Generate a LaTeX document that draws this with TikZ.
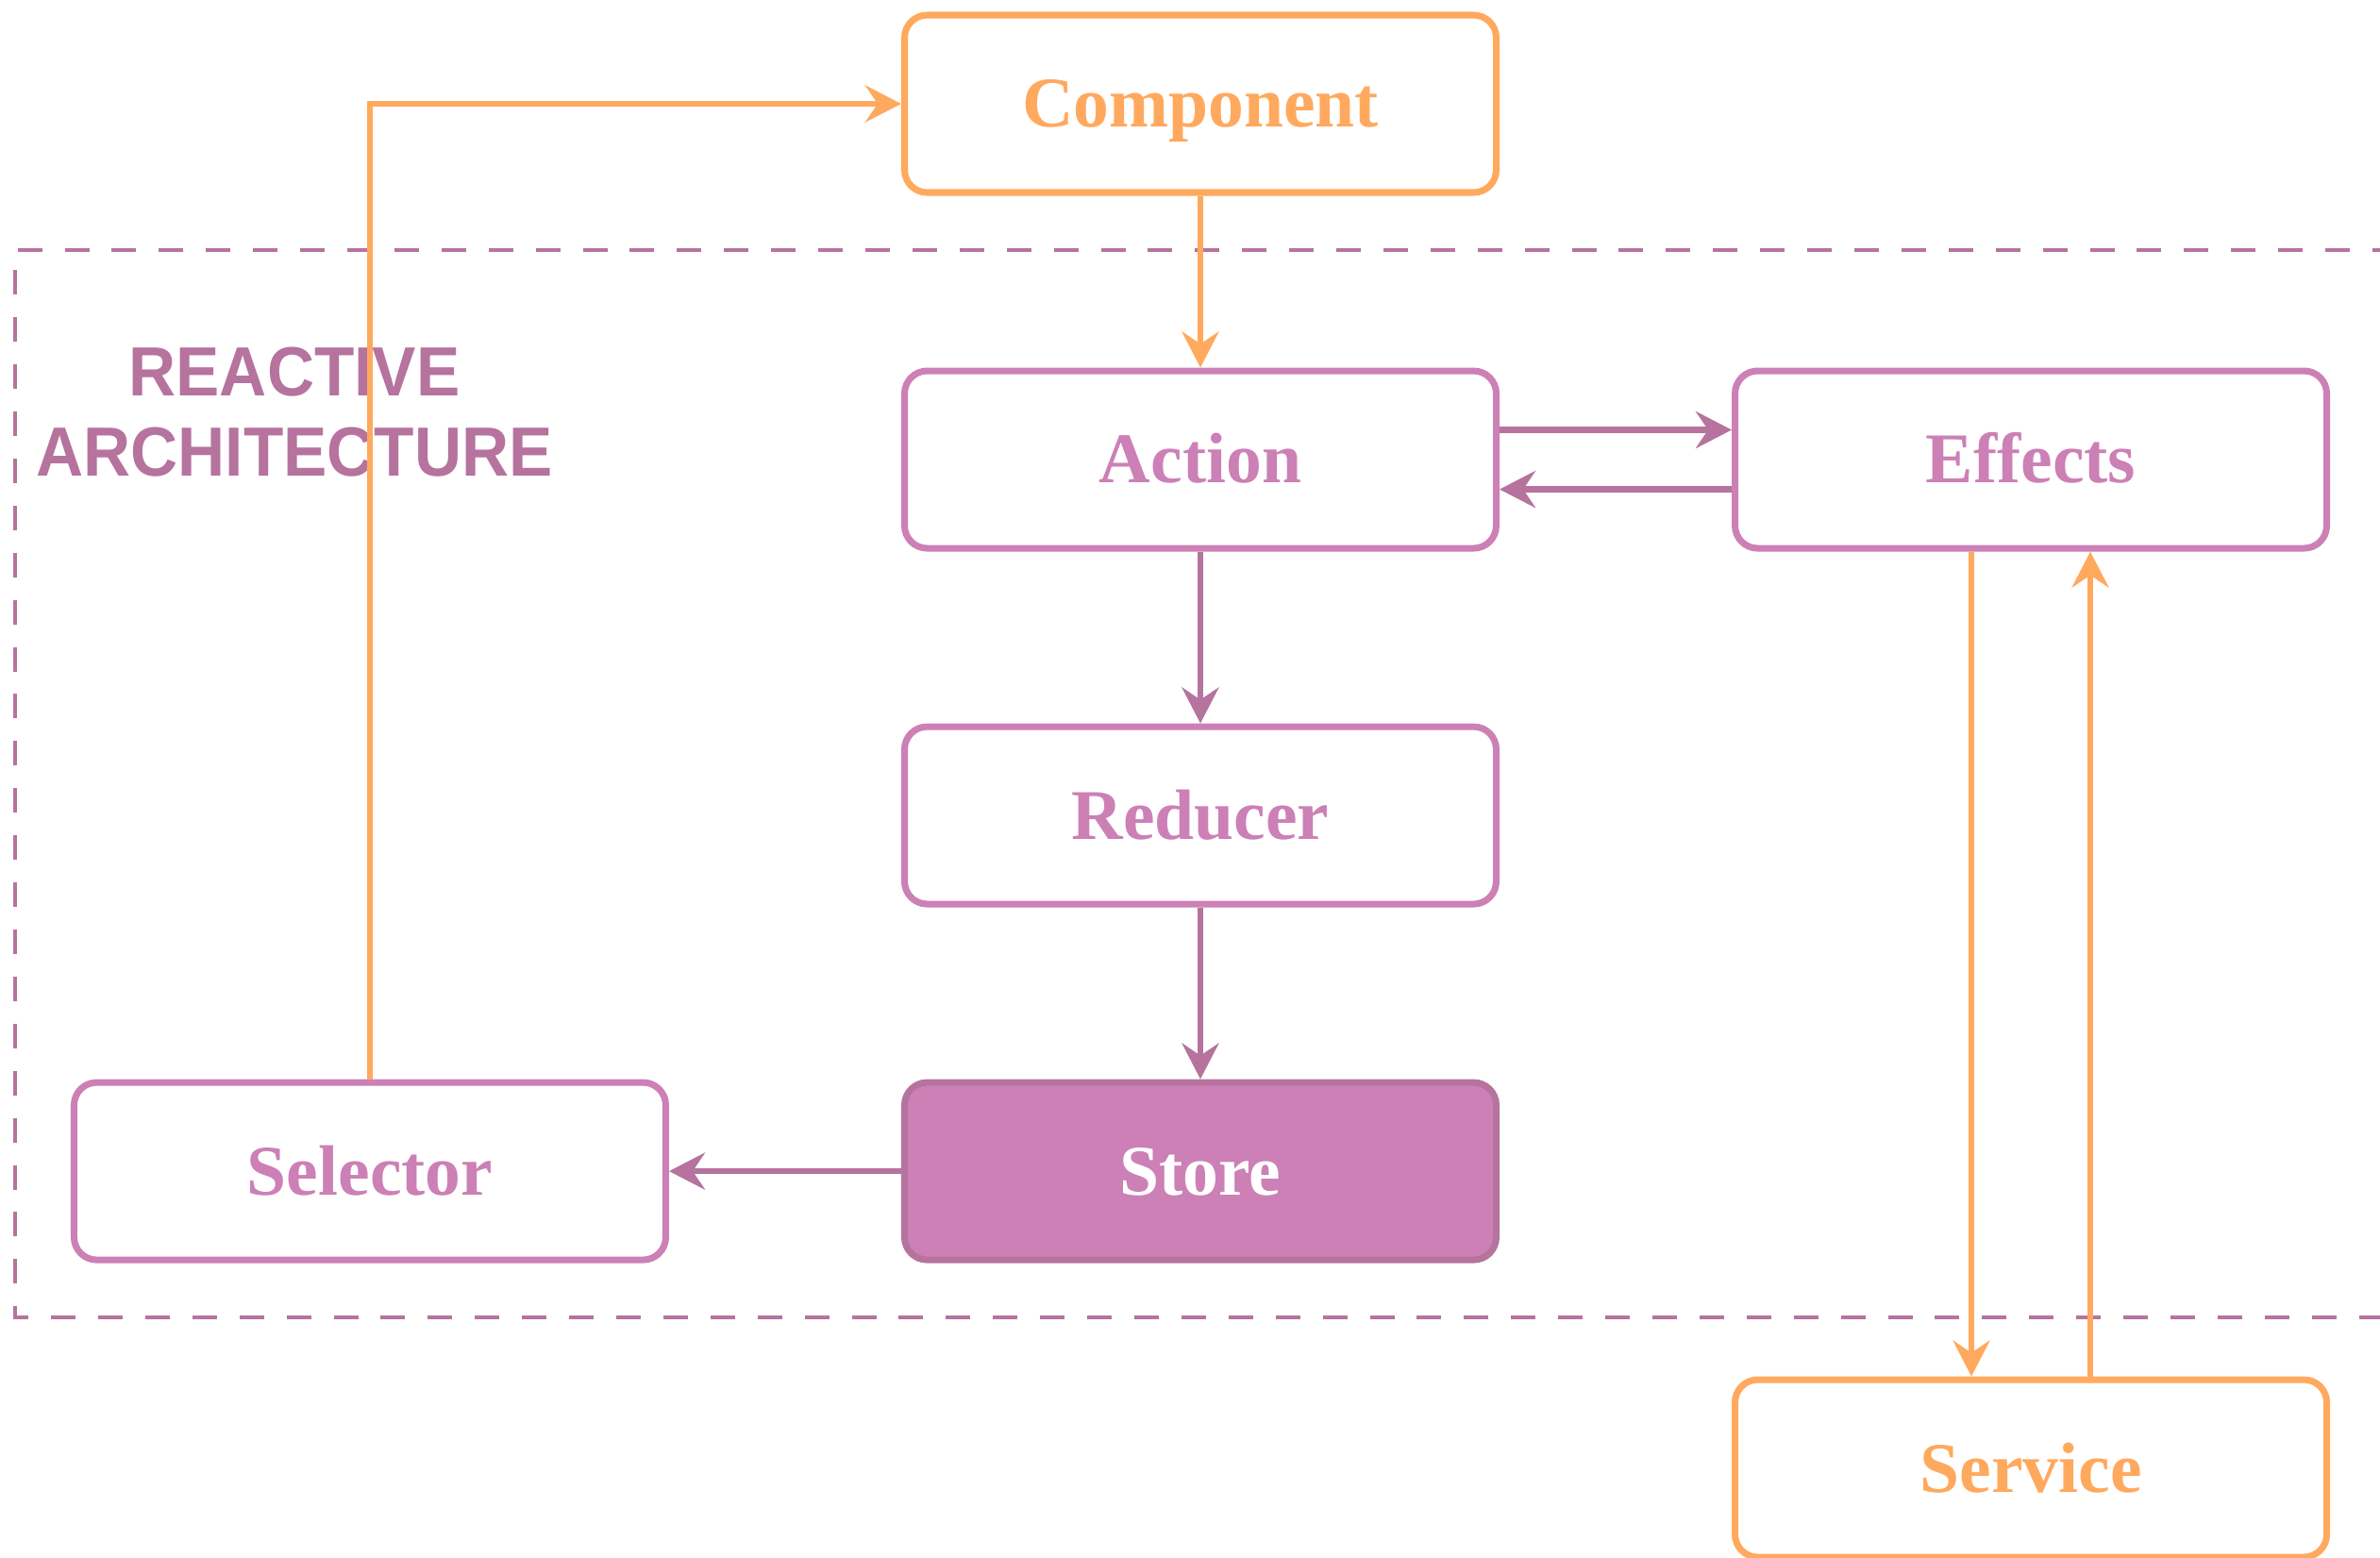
\documentclass[tikz,border=0pt]{standalone}
\usepackage{fontspec}
\setmainfont{Liberation Serif}
\newfontfamily\archfont[FakeStretch=0.94]{Liberation Sans}
\usetikzlibrary{arrows.meta,positioning}
\definecolor{peach}{RGB}{255,169,94}
\definecolor{orchid}{RGB}{204,128,182}
\definecolor{plum}{RGB}{181,115,158}
\tikzset{
  >={Stealth[length=3.8mm,width=3.9mm,inset=1.3mm]},
  block/.style={draw=#1,fill=white,line width=2pt,rounded corners=2.4mm,
    minimum width=62.7mm,minimum height=18.8mm,text=#1,
    text height=14.2pt,text depth=0pt,
    font=\fontsize{21.5}{25}\selectfont\bfseries},
  block/.default=orchid,
  filled block/.style={block=plum,fill=orchid,text=white},
  link/.style={->,line width=1.8pt,draw=#1},
  link/.default=plum,
  zone/.style={draw=plum,line width=1pt,dash pattern=on 7.4pt off 6.8pt},
}
\begin{document}
\begin{tikzpicture}[node distance=18.2mm and 24.6mm]
  \useasboundingbox (0,0) rectangle (25.22,16.5);
  % reactive zone
  \draw[zone] (25.4,13.85) -- (0.16,13.85) -- (0.16,2.54) -- (25.4,2.54);
  \node[font=\fontsize{21}{24.2}\archfont\bfseries,text=plum,align=center] (title) at (3.12,12.135) {REACTIVE\\ARCHITECTURE};
  % boxes
  \node[block=peach] (component) at (12.72,15.40) {Component};
  \node[block,below=of component] (action) {Action};
  \node[block,below=of action] (reducer) {Reducer};
  \node[filled block,below=of reducer] (store) {Store};
  \node[block,left=of store] (selector) {Selector};
  \node[block,right=of action] (effects) {Effects};
  \node[block=peach,below=87.4mm of effects] (service) {Service};
  % flows
  \draw[link=peach] (component) -- (action);
  \draw[link] (action) -- (reducer);
  \draw[link] (reducer) -- (store);
  \draw[link] (store) -- (selector);
  \draw[link] ([yshift=3.15mm]action.east) -- ([yshift=3.15mm]effects.west);
  \draw[link] ([yshift=-3.15mm]effects.west) -- ([yshift=-3.15mm]action.east);
  \draw[link=peach] (selector) |- (component);
  \draw[link=peach] ([xshift=-6.3mm]effects.south) -- ([xshift=-6.3mm]service.north);
  \draw[link=peach] ([xshift=6.3mm]service.north) -- ([xshift=6.3mm]effects.south);
\end{tikzpicture}
\end{document}
